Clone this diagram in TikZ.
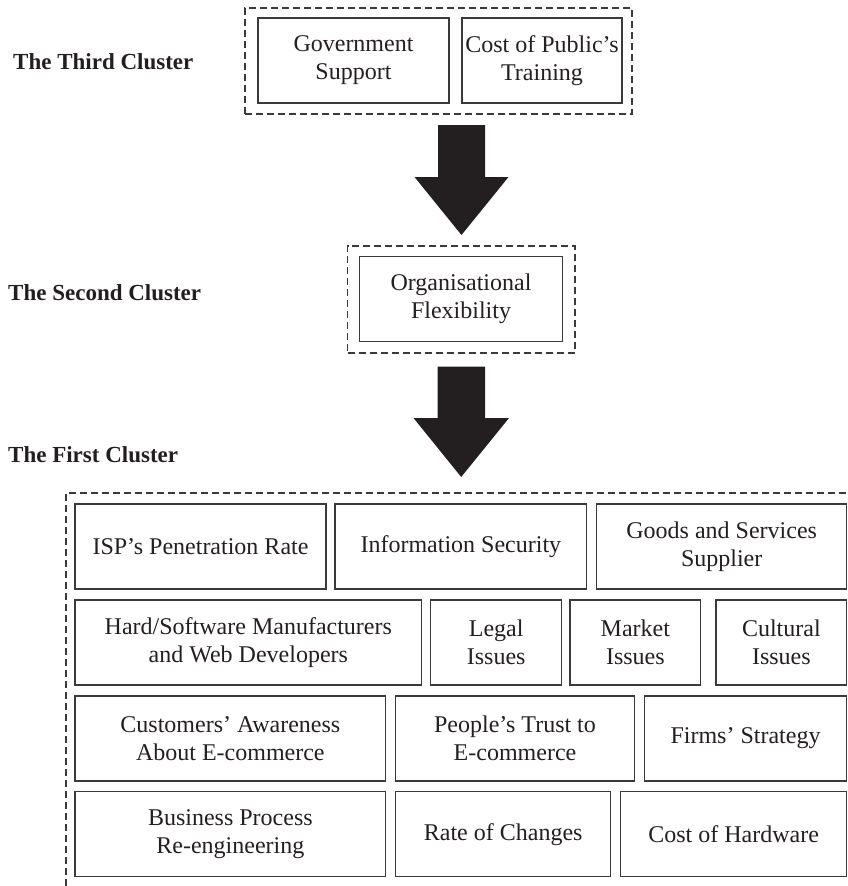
\documentclass[tikz,border=0pt]{standalone}
\usepackage{fontspec}
\setmainfont{Liberation Serif}
\definecolor{ink}{HTML}{231F20}
\definecolor{edge}{HTML}{3A3A3A}
\begin{document}
\begin{tikzpicture}[x=1pt,y=-1pt,
  box/.style={draw=edge, line width=1.3pt, rectangle, inner sep=0pt, outer sep=0pt,
    align=center, text=ink, font=\fontsize{24}{28}\selectfont},
  cluster/.style={draw=edge, line width=1.2pt, dash pattern=on 7pt off 4pt, rectangle,
    inner sep=0pt, outer sep=0pt},
  lbl/.style={anchor=base west, inner sep=0pt, text=ink, font=\fontsize{23}{28}\selectfont\bfseries},
  blockarrow/.style={fill=ink, draw=none}]
\useasboundingbox (0,0) rectangle (848,886);

% labels
\node[lbl] (l3) at (13,69) {The Third Cluster};
\node[lbl] (l2) at (8,300) {The Second Cluster};
\node[lbl] (l1) at (8,462) {The First Cluster};

% third cluster
\node[cluster, minimum width=387pt, minimum height=106pt] (c3) at (438.5,61) {};
\node[box, minimum width=191pt, minimum height=85pt] (gov) at (353.5,60.5) {Government\\Support};
\node[box, minimum width=160pt, minimum height=85pt] (cpt) at (542,60.5) {Cost of Public’s\\Training};

% arrow 1
\fill[blockarrow] (438,125) -- (485,125) -- (485,177) -- (508.5,177) -- (461.5,235)
  -- (414.5,177) -- (438,177) -- cycle;

% second cluster
\node[cluster, minimum width=227.3pt, minimum height=107pt] (c2) at (461.35,299.5) {};
\node[box, minimum width=203.4pt, minimum height=85pt] (org) at (461,299.2) {Organisational\\Flexibility};

% arrow 2
\fill[blockarrow] (437.5,366.7) -- (485,366.7) -- (485,418) -- (509,418) -- (461.2,477)
  -- (413.5,418) -- (437.5,418) -- cycle;

% first cluster (open frame)
\coordinate (f1) at (66,886);
\coordinate (f2) at (66,493);
\coordinate (f3) at (848,493);
\draw[draw=edge, line width=1.2pt, dash pattern=on 7pt off 4pt] (f1) -- (f2) -- (f3);

% row 1
\node[box, minimum width=251pt, minimum height=85pt] (isp) at (200.5,546.5) {ISP’s Penetration Rate};
\node[box, minimum width=251.7pt, minimum height=85pt] (info) at (460.85,546.5) {Information Security};
\node[box, minimum width=250pt, minimum height=85pt] (goods) at (721.7,546.5) {Goods and Services\\Supplier};
% row 2
\node[box, minimum width=346.7pt, minimum height=85pt] (hard) at (248.35,642.5) {Hard/Software Manufacturers\\and Web Developers};
\node[box, minimum width=131pt, minimum height=85pt] (legal) at (496.2,642.5) {Legal\\Issues};
\node[box, minimum width=130.7pt, minimum height=85pt] (market) at (635.35,642.5) {Market\\Issues};
\node[box, minimum width=130.7pt, minimum height=85pt] (cult) at (781.35,642.5) {Cultural\\Issues};
% row 3
\node[box, minimum width=310.7pt, minimum height=85pt] (cust) at (230.35,738.5) {Customers’ Awareness\\About E-commerce};
\node[box, minimum width=238.6pt, minimum height=85pt] (trust) at (515,738.5) {People’s Trust to\\E-commerce};
\node[box, minimum width=202.4pt, minimum height=85pt] (firms) at (745.5,738.5) {Firms’ Strategy};
% row 4
\node[box, minimum width=310.7pt, minimum height=85pt] (bpr) at (230.35,834.2) {Business Process\\Re-engineering};
\node[box, minimum width=215pt, minimum height=85pt] (rate) at (503.2,834.2) {Rate of Changes};
\node[box, minimum width=226pt, minimum height=85pt] (chw) at (733.7,834.2) {Cost of Hardware};
\end{tikzpicture}
\end{document}
